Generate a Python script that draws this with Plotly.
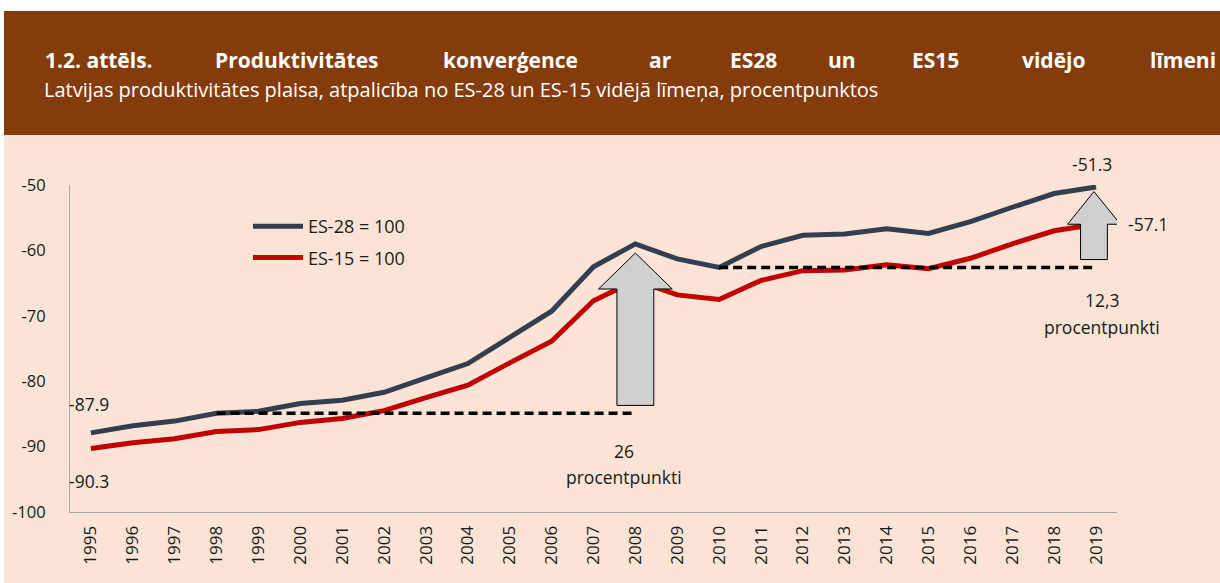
import plotly.graph_objects as go

years = list(range(1995, 2020))
es28 = [-87.9, -86.8, -86.1, -84.9, -84.6, -83.4, -82.9, -81.7, -79.5, -77.3,
        -73.3, -69.3, -62.5, -59.0, -61.3, -62.6, -59.4, -57.7, -57.5, -56.7,
        -57.4, -55.6, -53.4, -51.3, -50.3]
es15 = [-90.3, -89.4, -88.8, -87.7, -87.4, -86.3, -85.7, -84.5, -82.5, -80.6,
        -77.2, -73.9, -67.7, -64.6, -66.8, -67.5, -64.6, -63.1, -63.0, -62.2,
        -62.8, -61.2, -59.0, -57.0, -56.0]
series_names = ["ES-28 = 100", "ES-15 = 100"]
title_words = ["1.2. attēls.", "Produktivitātes", "konverģence", "ar", "ES28",
               "un", "ES15", "vidējo", "līmeni"]
subtitle = "Latvijas produktivitātes plaisa, atpalicība no ES-28 un ES-15 vidējā līmeņa, procentpunktos"
y_ticks = [-100, -90, -80, -70, -60, -50]

W, H = 1220, 583
ML, MR, MT, MB = 70, 103, 185, 71
PW, PH = W - ML - MR, H - MT - MB

def px(x):
    return (x - ML) / PW

def py(y):
    return (H - MB - y) / PH

BROWN = "#843C0C"
PEACH = "#FBE4D6"
C28 = "#333F50"
C15 = "#C00000"
FONT = "Open Sans"
TXT = "#1a1a1a"

fig = go.Figure()
fig.add_trace(go.Scatter(x=years, y=es28, mode="lines", name=series_names[0],
                         line=dict(color=C28, width=5), legendgroup="a"))
fig.add_trace(go.Scatter(x=years, y=es15, mode="lines", name=series_names[1],
                         line=dict(color=C15, width=5), legendgroup="b"))

# dashed reference lines (level of ES-28 in 1998 and 2010)
i98, i10 = years.index(1998), years.index(2010)
fig.add_trace(go.Scatter(x=[1998, 2008], y=[es28[i98], es28[i98]], mode="lines",
                         line=dict(color="black", width=3.5, dash="9px,5px"),
                         showlegend=False, hoverinfo="skip"))
fig.add_trace(go.Scatter(x=[2010, 2019], y=[es28[i10], es28[i10]], mode="lines",
                         line=dict(color="black", width=3.5, dash="9px,5px"),
                         showlegend=False, hoverinfo="skip"))

def arrow_path(xc, y0, yb, yt, sw, hw):
    return (f"M {xc-sw} {y0} L {xc+sw} {y0} L {xc+sw} {yb} L {xc+hw} {yb} "
            f"L {xc} {yt} L {xc-hw} {yb} L {xc-sw} {yb} Z")

shapes = [
    dict(type="rect", xref="paper", yref="paper", x0=px(0), x1=px(W), y0=py(H), y1=py(0),
         fillcolor="white", line_width=0, layer="below"),
    dict(type="rect", xref="paper", yref="paper", x0=px(4), x1=px(W + 5), y0=py(H + 5), y1=py(135),
         fillcolor=PEACH, line_width=0, layer="below"),
    dict(type="rect", xref="paper", yref="paper", x0=px(4), x1=px(W + 5), y0=py(135), y1=py(11),
         fillcolor=BROWN, line_width=0, layer="below"),
    dict(type="path", xref="x", yref="y",
         path=arrow_path(2008, -83.7, -65.9, -60.4, 0.44, 0.88),
         fillcolor="#D0D0D0", line=dict(color="black", width=1), layer="above"),
    dict(type="path", xref="x", yref="y",
         path=arrow_path(2018.95, -61.4, -56.0, -51.0, 0.32, 0.63),
         fillcolor="#D0D0D0", line=dict(color="black", width=1), layer="above"),
]

anns = []
title_x = [43, 213, 441, 647, 728, 826, 910, 1020, 1148]
for w, xp in zip(title_words, title_x):
    anns.append(dict(text=f"<b>{w}</b>", xref="paper", yref="paper", x=px(xp), y=py(60),
                     xanchor="left", yanchor="middle", showarrow=False,
                     font=dict(family=FONT, size=21, color="white")))
anns.append(dict(text=subtitle, xref="paper", yref="paper", x=px(42), y=py(90),
                 xanchor="left", yanchor="middle", showarrow=False,
                 font=dict(family=FONT, size=20, color="white")))

lab_font = dict(family=FONT, size=17.5, color=TXT)
anns += [
    dict(text=f"{es28[0]:.1f}", xref="paper", yref="paper", x=px(67), y=py(404),
         xanchor="left", yanchor="middle", showarrow=False, font=lab_font),
    dict(text=f"{es15[0]:.1f}", xref="paper", yref="paper", x=px(67), y=py(481),
         xanchor="left", yanchor="middle", showarrow=False, font=lab_font),
    dict(text="-51.3", xref="paper", yref="paper", x=px(1092), y=py(164),
         xanchor="center", yanchor="middle", showarrow=False, font=lab_font),
    dict(text="-57.1", xref="paper", yref="paper", x=px(1126), y=py(224),
         xanchor="left", yanchor="middle", showarrow=False, font=lab_font),
    dict(text="26", xref="paper", yref="paper", x=px(624), y=py(451),
         xanchor="center", yanchor="middle", showarrow=False, font=lab_font),
    dict(text="procentpunkti", xref="paper", yref="paper", x=px(624), y=py(477),
         xanchor="center", yanchor="middle", showarrow=False, font=lab_font),
    dict(text="12,3", xref="paper", yref="paper", x=px(1102), y=py(300),
         xanchor="center", yanchor="middle", showarrow=False, font=lab_font),
    dict(text="procentpunkti", xref="paper", yref="paper", x=px(1102), y=py(327),
         xanchor="center", yanchor="middle", showarrow=False, font=lab_font),
]

fig.update_layout(
    width=W, height=H,
    margin=dict(l=ML, r=MR, t=MT, b=MB, pad=0),
    paper_bgcolor="white", plot_bgcolor="rgba(0,0,0,0)",
    font=dict(family=FONT, size=16, color=TXT),
    shapes=shapes, annotations=anns,
    showlegend=True,
    legend=dict(x=px(248), y=py(208), xanchor="left", yanchor="top",
                bgcolor="rgba(0,0,0,0)", font=dict(family=FONT, size=18, color=TXT),
                tracegroupgap=5, traceorder="grouped", itemwidth=50),
    xaxis=dict(range=[1994.5, 2019.5], tickvals=years, ticktext=[str(y) for y in years],
               tickangle=-90, showgrid=False, zeroline=False, showline=True,
               linecolor="#A6A6A6", linewidth=1, ticks="", ticklen=0,
               ticklabelstandoff=6,
               tickfont=dict(family=FONT, size=17, color=TXT)),
    yaxis=dict(range=[-100, -50], tickvals=y_ticks, ticktext=[str(v) for v in y_ticks],
               showgrid=False, zeroline=False,
               showline=True, linecolor="#A6A6A6", linewidth=1, ticks="",
               ticklabelstandoff=20,
               tickfont=dict(family=FONT, size=16.5, color=TXT)),
)

fig.write_html("out.html", post_script="document.body.style.margin='0';",
               config={"displayModeBar": False})
